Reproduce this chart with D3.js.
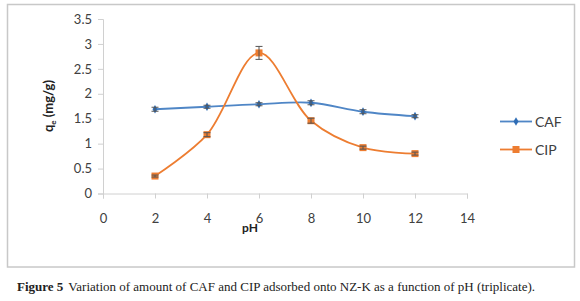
<!DOCTYPE html>
<html><head><meta charset="utf-8">
<script src="https://cdn.jsdelivr.net/npm/d3@7"></script>
<style>body{margin:0;background:#fff}svg{display:block}</style>
</head><body>
<script>
const phValues = [2, 4, 6, 8, 10, 12];
const cafValues = [1.69, 1.74, 1.79, 1.82, 1.64, 1.55];
const cafErrors = [0.04, 0.03, 0.03, 0.04, 0.04, 0.03];
const cipValues = [0.35, 1.18, 2.82, 1.46, 0.92, 0.80];
const cipErrors = [0.02, 0.04, 0.13, 0.05, 0.03, 0.03];
const xTicks = [0, 2, 4, 6, 8, 10, 12, 14];
const yTicks = [0, 0.5, 1, 1.5, 2, 2.5, 3, 3.5];
const seriesNames = ["CAF", "CIP"];

const W = 580, H = 301;
const svg = d3.select("body").append("svg").attr("width", W).attr("height", H);
const font = "Lato, 'Open Sans', sans-serif";

// chart border
svg.append("rect").attr("x", 7.5).attr("y", 4.5).attr("width", 567).attr("height", 262.5)
  .attr("fill", "#fff").attr("stroke", "#c8c8c8").attr("stroke-width", 1.5);

const x = d3.scaleLinear().domain([0, 14]).range([103, 467]);
const y = d3.scaleLinear().domain([0, 3.5]).range([193.5, 19]);

const axisColor = "#d0d0d0";
// y axis
const gy = svg.append("g").attr("transform", `translate(${x(0)},0)`)
  .call(d3.axisLeft(y).tickValues(yTicks).tickSize(5).tickPadding(6).tickFormat(d => String(d)));
gy.select(".domain").attr("stroke", axisColor);
gy.selectAll(".tick line").attr("stroke", axisColor);
gy.selectAll("text").attr("font-family", font).attr("font-size", 13).attr("fill", "#404040");

// x axis
const gx = svg.append("g").attr("transform", `translate(0,${y(0)})`)
  .call(d3.axisBottom(x).tickValues(xTicks).tickSize(5).tickPadding(15).tickFormat(d => String(d)));
gx.select(".domain").attr("stroke", axisColor);
gx.selectAll(".tick line").attr("stroke", axisColor);
gx.selectAll("text").attr("font-family", font).attr("font-size", 13).attr("fill", "#404040");

// axis titles
const yt = svg.append("text").attr("transform", "translate(53,106) rotate(-90)")
  .attr("text-anchor", "middle").attr("font-family", font).attr("font-weight", "bold")
  .attr("font-size", 13).attr("fill", "#222");
yt.append("tspan").text("q");
yt.append("tspan").attr("font-size", 8).attr("dy", 3).text("e");
yt.append("tspan").attr("dy", -3).text(" (mg/g)");

svg.append("text").attr("x", 242).attr("y", 232).attr("font-family", font)
  .attr("font-weight", "bold").attr("font-size", 12).attr("fill", "#222").text("pH");

const colors = ["#4F86C6", "#ED7D31"];
const data = [
  phValues.map((p, i) => ({x: p, y: cafValues[i], e: cafErrors[i]})),
  phValues.map((p, i) => ({x: p, y: cipValues[i], e: cipErrors[i]}))
];
const line = d3.line().x(d => x(d.x)).y(d => y(d.y)).curve(d3.curveCatmullRom.alpha(0.5));

data.forEach((s, k) => {
  svg.append("path").datum(s).attr("d", line).attr("fill", "none")
    .attr("stroke", colors[k]).attr("stroke-width", 1.8);
});

data.forEach((s, k) => {
  const g = svg.append("g");
  s.forEach(d => {
    if (k === 0) {
      g.append("path").attr("d", d3.symbol(d3.symbolDiamond, 22)())
        .attr("transform", `translate(${x(d.x)},${y(d.y)})`).attr("fill", "#2F6DB5");
    } else {
      g.append("rect").attr("x", x(d.x) - 3.5).attr("y", y(d.y) - 3.5)
        .attr("width", 7).attr("height", 7).attr("fill", "#ED7D31");
    }
    const eg = g.append("g").attr("stroke", "#555").attr("stroke-width", 1);
    eg.append("line").attr("x1", x(d.x)).attr("x2", x(d.x)).attr("y1", y(d.y + d.e)).attr("y2", y(d.y - d.e));
    eg.append("line").attr("x1", x(d.x) - 3.5).attr("x2", x(d.x) + 3.5).attr("y1", y(d.y + d.e)).attr("y2", y(d.y + d.e));
    eg.append("line").attr("x1", x(d.x) - 3.5).attr("x2", x(d.x) + 3.5).attr("y1", y(d.y - d.e)).attr("y2", y(d.y - d.e));
  });
});

// legend
const legY = [121.5, 149.5];
seriesNames.forEach((n, k) => {
  svg.append("line").attr("x1", 500).attr("x2", 532).attr("y1", legY[k]).attr("y2", legY[k])
    .attr("stroke", colors[k]).attr("stroke-width", 1.8);
  if (k === 0) {
    svg.append("path").attr("d", d3.symbol(d3.symbolDiamond, 22)())
      .attr("transform", `translate(516,${legY[k]})`).attr("fill", "#2F6DB5");
  } else {
    svg.append("rect").attr("x", 512.5).attr("y", legY[k] - 3.5).attr("width", 7).attr("height", 7).attr("fill", "#ED7D31");
  }
  svg.append("text").attr("x", 535).attr("y", legY[k] + 5).attr("font-family", font)
    .attr("font-size", 14).attr("fill", "#404040").text(n);
});

// caption
const cap = svg.append("text").attr("x", 17).attr("y", 291)
  .attr("font-family", "'Liberation Serif', 'DejaVu Serif', serif").attr("font-size", 13).attr("fill", "#222");
cap.append("tspan").attr("font-weight", "bold").text("Figure 5");
cap.append("tspan").attr("dx", 5).text("Variation of amount of CAF and CIP adsorbed onto NZ-K as a function of pH (triplicate).");
</script>
</body></html>
